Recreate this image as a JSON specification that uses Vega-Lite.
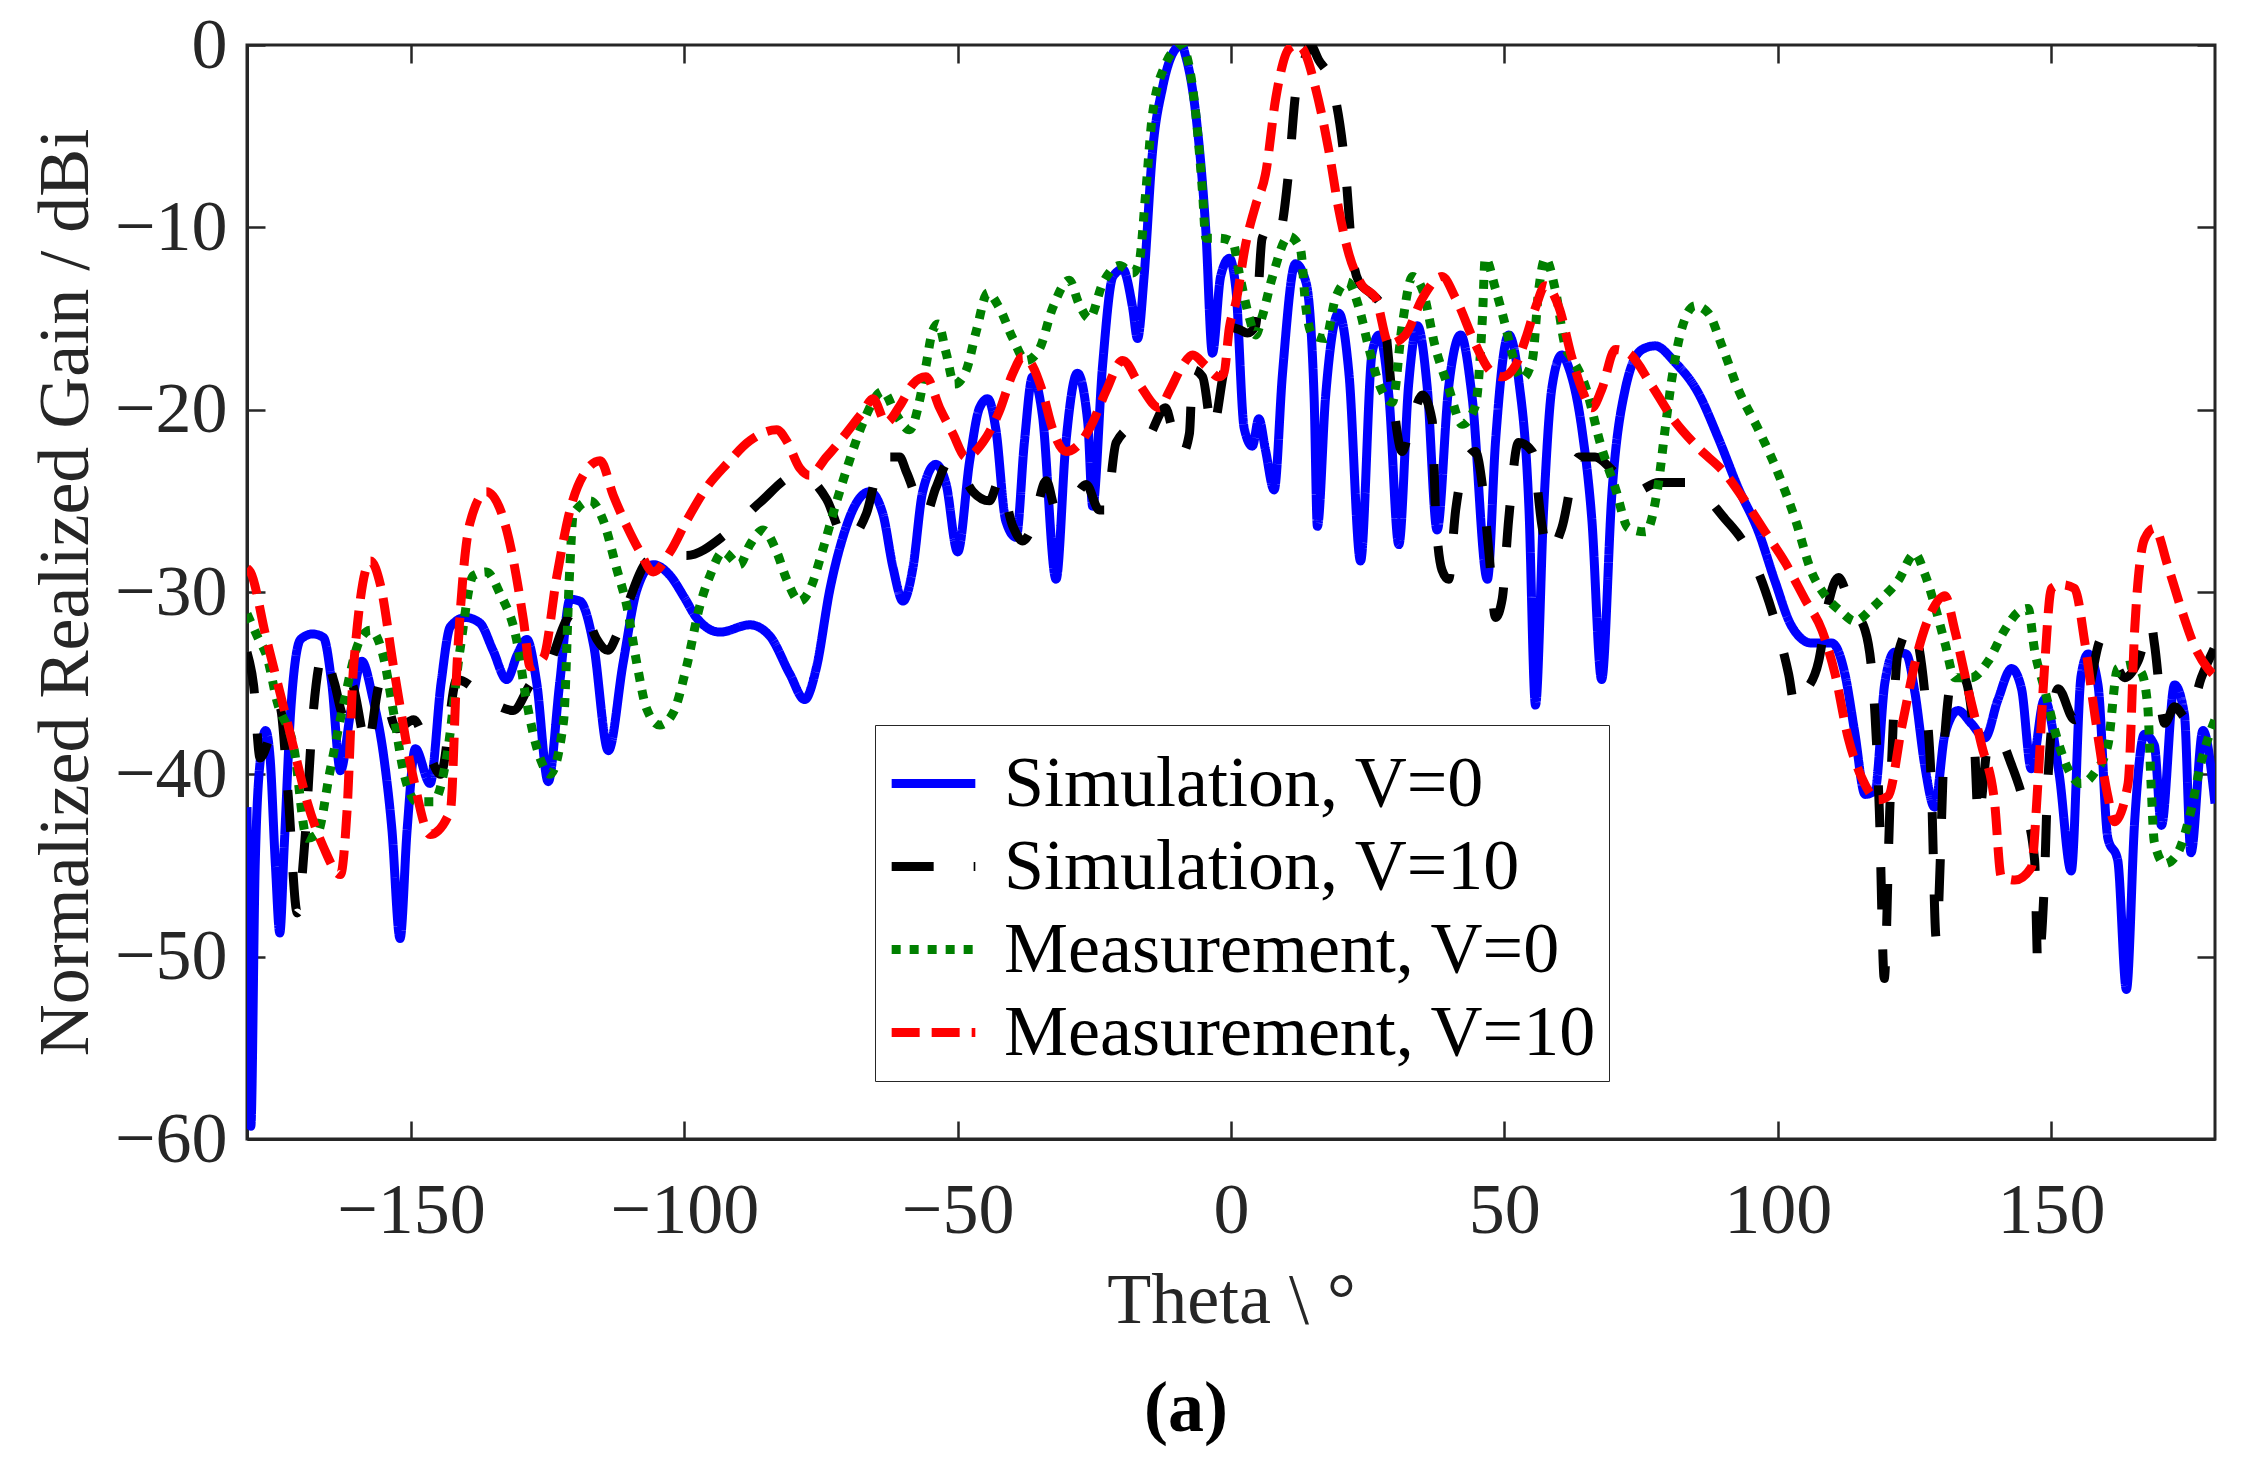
{
  "$schema": "https://vega.github.io/schema/vega-lite/v6.json",
  "width": 1968,
  "height": 1094,
  "autosize": {"type": "none"},
  "padding": {"left": 247, "top": 45, "right": 36, "bottom": 334},
  "background": "white",
  "title": {
    "text": "(a)",
    "orient": "bottom",
    "anchor": "middle",
    "dx": -45,
    "offset": 38,
    "font": "Liberation Serif",
    "fontSize": 72,
    "fontWeight": "bold",
    "color": "#000000"
  },
  "config": {
    "view": {"stroke": "#262626", "strokeWidth": 3},
    "axis": {
      "grid": false,
      "labelFont": "Liberation Serif",
      "labelFontSize": 72,
      "labelColor": "#262626",
      "titleFont": "Liberation Serif",
      "titleFontSize": 72,
      "titleFontWeight": "normal",
      "titleColor": "#262626",
      "domainColor": "#262626",
      "domainWidth": 3,
      "tickColor": "#262626",
      "tickWidth": 2.5,
      "tickSize": -18
    },
    "legend": {
      "orient": "none",
      "legendX": 628,
      "legendY": 680,
      "symbolType": "stroke",
      "symbolSize": 7000,
      "symbolStrokeWidth": 9,
      "labelFont": "Liberation Serif",
      "labelFontSize": 72,
      "labelColor": "#000000",
      "labelOffset": 24,
      "labelLimit": 0,
      "rowPadding": 0,
      "strokeColor": "#262626",
      "fillColor": "white",
      "padding": 12
    }
  },
  "data": {
    "values": [
      {"series": "Simulation, V=0", "theta": -180, "gain": -41.8},
      {"series": "Simulation, V=0", "theta": -179.3, "gain": -59.3},
      {"series": "Simulation, V=0", "theta": -178.5, "gain": -45},
      {"series": "Simulation, V=0", "theta": -177.5, "gain": -39},
      {"series": "Simulation, V=0", "theta": -176.6, "gain": -37.6},
      {"series": "Simulation, V=0", "theta": -175.8, "gain": -39},
      {"series": "Simulation, V=0", "theta": -174.8, "gain": -45},
      {"series": "Simulation, V=0", "theta": -174, "gain": -48.7},
      {"series": "Simulation, V=0", "theta": -173.2, "gain": -44},
      {"series": "Simulation, V=0", "theta": -172, "gain": -36.5},
      {"series": "Simulation, V=0", "theta": -170.2, "gain": -32.6},
      {"series": "Simulation, V=0", "theta": -168, "gain": -32.3},
      {"series": "Simulation, V=0", "theta": -166, "gain": -32.5},
      {"series": "Simulation, V=0", "theta": -164.5, "gain": -35},
      {"series": "Simulation, V=0", "theta": -162.9, "gain": -39.8},
      {"series": "Simulation, V=0", "theta": -161, "gain": -36.5},
      {"series": "Simulation, V=0", "theta": -159, "gain": -33.8},
      {"series": "Simulation, V=0", "theta": -157, "gain": -35.8},
      {"series": "Simulation, V=0", "theta": -155, "gain": -39},
      {"series": "Simulation, V=0", "theta": -153.5, "gain": -43},
      {"series": "Simulation, V=0", "theta": -152, "gain": -49},
      {"series": "Simulation, V=0", "theta": -150.7, "gain": -43},
      {"series": "Simulation, V=0", "theta": -149.2, "gain": -38.6},
      {"series": "Simulation, V=0", "theta": -146.5, "gain": -40.5},
      {"series": "Simulation, V=0", "theta": -144.5, "gain": -35},
      {"series": "Simulation, V=0", "theta": -142.8, "gain": -31.9},
      {"series": "Simulation, V=0", "theta": -140, "gain": -31.4},
      {"series": "Simulation, V=0", "theta": -137.4, "gain": -31.7},
      {"series": "Simulation, V=0", "theta": -135, "gain": -33.2},
      {"series": "Simulation, V=0", "theta": -132.5, "gain": -34.8},
      {"series": "Simulation, V=0", "theta": -130.5, "gain": -33.4},
      {"series": "Simulation, V=0", "theta": -128.8, "gain": -32.6},
      {"series": "Simulation, V=0", "theta": -127, "gain": -35},
      {"series": "Simulation, V=0", "theta": -124.9, "gain": -40.4},
      {"series": "Simulation, V=0", "theta": -122.8, "gain": -35},
      {"series": "Simulation, V=0", "theta": -120.9, "gain": -30.4},
      {"series": "Simulation, V=0", "theta": -119.1, "gain": -30.5},
      {"series": "Simulation, V=0", "theta": -116.6, "gain": -32.9},
      {"series": "Simulation, V=0", "theta": -113.9, "gain": -38.7},
      {"series": "Simulation, V=0", "theta": -111.2, "gain": -33.9},
      {"series": "Simulation, V=0", "theta": -108.7, "gain": -29.9},
      {"series": "Simulation, V=0", "theta": -105.7, "gain": -28.5},
      {"series": "Simulation, V=0", "theta": -102.6, "gain": -29.1},
      {"series": "Simulation, V=0", "theta": -100, "gain": -30.3},
      {"series": "Simulation, V=0", "theta": -97.8, "gain": -31.4},
      {"series": "Simulation, V=0", "theta": -93.5, "gain": -32.2},
      {"series": "Simulation, V=0", "theta": -88, "gain": -31.8},
      {"series": "Simulation, V=0", "theta": -84.4, "gain": -32.4},
      {"series": "Simulation, V=0", "theta": -80.7, "gain": -34.5},
      {"series": "Simulation, V=0", "theta": -78, "gain": -35.9},
      {"series": "Simulation, V=0", "theta": -75.8, "gain": -34.1},
      {"series": "Simulation, V=0", "theta": -73.4, "gain": -29.9},
      {"series": "Simulation, V=0", "theta": -71, "gain": -27},
      {"series": "Simulation, V=0", "theta": -68.5, "gain": -25.1},
      {"series": "Simulation, V=0", "theta": -66.1, "gain": -24.5},
      {"series": "Simulation, V=0", "theta": -63.7, "gain": -25.7},
      {"series": "Simulation, V=0", "theta": -61.8, "gain": -28.7},
      {"series": "Simulation, V=0", "theta": -60, "gain": -30.5},
      {"series": "Simulation, V=0", "theta": -58.2, "gain": -28.7},
      {"series": "Simulation, V=0", "theta": -56.4, "gain": -24.5},
      {"series": "Simulation, V=0", "theta": -54, "gain": -23},
      {"series": "Simulation, V=0", "theta": -52.1, "gain": -24.1},
      {"series": "Simulation, V=0", "theta": -50, "gain": -27.8},
      {"series": "Simulation, V=0", "theta": -47.8, "gain": -22.8},
      {"series": "Simulation, V=0", "theta": -46, "gain": -19.9},
      {"series": "Simulation, V=0", "theta": -44.5, "gain": -19.4},
      {"series": "Simulation, V=0", "theta": -43, "gain": -21.1},
      {"series": "Simulation, V=0", "theta": -41.2, "gain": -26.1},
      {"series": "Simulation, V=0", "theta": -39.3, "gain": -27},
      {"series": "Simulation, V=0", "theta": -37.8, "gain": -21.8},
      {"series": "Simulation, V=0", "theta": -36.3, "gain": -18.2},
      {"series": "Simulation, V=0", "theta": -34.5, "gain": -20.3},
      {"series": "Simulation, V=0", "theta": -32, "gain": -29.3},
      {"series": "Simulation, V=0", "theta": -30.2, "gain": -21.8},
      {"series": "Simulation, V=0", "theta": -28.1, "gain": -18},
      {"series": "Simulation, V=0", "theta": -26.2, "gain": -20.7},
      {"series": "Simulation, V=0", "theta": -25.3, "gain": -25.3},
      {"series": "Simulation, V=0", "theta": -23.5, "gain": -17.6},
      {"series": "Simulation, V=0", "theta": -21.6, "gain": -12.7},
      {"series": "Simulation, V=0", "theta": -19.8, "gain": -12.3},
      {"series": "Simulation, V=0", "theta": -18, "gain": -14.4},
      {"series": "Simulation, V=0", "theta": -17.1, "gain": -16.1},
      {"series": "Simulation, V=0", "theta": -15.9, "gain": -12.7},
      {"series": "Simulation, V=0", "theta": -14.4, "gain": -6},
      {"series": "Simulation, V=0", "theta": -12.5, "gain": -2.3},
      {"series": "Simulation, V=0", "theta": -10.1, "gain": -0.2},
      {"series": "Simulation, V=0", "theta": -9, "gain": 0},
      {"series": "Simulation, V=0", "theta": -8.3, "gain": -0.6},
      {"series": "Simulation, V=0", "theta": -6.4, "gain": -3.9},
      {"series": "Simulation, V=0", "theta": -4.6, "gain": -10.2},
      {"series": "Simulation, V=0", "theta": -3.4, "gain": -16.9},
      {"series": "Simulation, V=0", "theta": -1.9, "gain": -12.7},
      {"series": "Simulation, V=0", "theta": -0.3, "gain": -11.7},
      {"series": "Simulation, V=0", "theta": 0.9, "gain": -13.4},
      {"series": "Simulation, V=0", "theta": 2.4, "gain": -21},
      {"series": "Simulation, V=0", "theta": 3.9, "gain": -22},
      {"series": "Simulation, V=0", "theta": 5.1, "gain": -20.5},
      {"series": "Simulation, V=0", "theta": 6.3, "gain": -22.2},
      {"series": "Simulation, V=0", "theta": 7.9, "gain": -24.4},
      {"series": "Simulation, V=0", "theta": 9.4, "gain": -18.1},
      {"series": "Simulation, V=0", "theta": 11.8, "gain": -12},
      {"series": "Simulation, V=0", "theta": 13.7, "gain": -13},
      {"series": "Simulation, V=0", "theta": 15.2, "gain": -19.3},
      {"series": "Simulation, V=0", "theta": 15.8, "gain": -26.4},
      {"series": "Simulation, V=0", "theta": 17.3, "gain": -19.3},
      {"series": "Simulation, V=0", "theta": 19.7, "gain": -14.7},
      {"series": "Simulation, V=0", "theta": 21.6, "gain": -18.1},
      {"series": "Simulation, V=0", "theta": 23.7, "gain": -28.3},
      {"series": "Simulation, V=0", "theta": 25.8, "gain": -16.9},
      {"series": "Simulation, V=0", "theta": 27.1, "gain": -15.9},
      {"series": "Simulation, V=0", "theta": 28.9, "gain": -19.3},
      {"series": "Simulation, V=0", "theta": 30.7, "gain": -27.4},
      {"series": "Simulation, V=0", "theta": 32.5, "gain": -18.6},
      {"series": "Simulation, V=0", "theta": 34.1, "gain": -15.4},
      {"series": "Simulation, V=0", "theta": 35.9, "gain": -18.8},
      {"series": "Simulation, V=0", "theta": 37.7, "gain": -26.6},
      {"series": "Simulation, V=0", "theta": 39.8, "gain": -18.8},
      {"series": "Simulation, V=0", "theta": 42, "gain": -15.9},
      {"series": "Simulation, V=0", "theta": 44.1, "gain": -19.3},
      {"series": "Simulation, V=0", "theta": 46.9, "gain": -29.3},
      {"series": "Simulation, V=0", "theta": 48.4, "gain": -21.7},
      {"series": "Simulation, V=0", "theta": 50.8, "gain": -15.9},
      {"series": "Simulation, V=0", "theta": 52.6, "gain": -18.3},
      {"series": "Simulation, V=0", "theta": 54.5, "gain": -25.4},
      {"series": "Simulation, V=0", "theta": 55.7, "gain": -36.2},
      {"series": "Simulation, V=0", "theta": 57.2, "gain": -25.4},
      {"series": "Simulation, V=0", "theta": 58.7, "gain": -18.8},
      {"series": "Simulation, V=0", "theta": 60.5, "gain": -17},
      {"series": "Simulation, V=0", "theta": 61.8, "gain": -17.7},
      {"series": "Simulation, V=0", "theta": 64.2, "gain": -21.1},
      {"series": "Simulation, V=0", "theta": 66, "gain": -26},
      {"series": "Simulation, V=0", "theta": 67.8, "gain": -34.8},
      {"series": "Simulation, V=0", "theta": 69.7, "gain": -24.5},
      {"series": "Simulation, V=0", "theta": 72.1, "gain": -18.9},
      {"series": "Simulation, V=0", "theta": 75.2, "gain": -16.7},
      {"series": "Simulation, V=0", "theta": 77.6, "gain": -16.5},
      {"series": "Simulation, V=0", "theta": 81.2, "gain": -17.4},
      {"series": "Simulation, V=0", "theta": 85.5, "gain": -19.1},
      {"series": "Simulation, V=0", "theta": 89.2, "gain": -21.6},
      {"series": "Simulation, V=0", "theta": 92.8, "gain": -24.3},
      {"series": "Simulation, V=0", "theta": 96.5, "gain": -26.7},
      {"series": "Simulation, V=0", "theta": 99.5, "gain": -29.4},
      {"series": "Simulation, V=0", "theta": 102.6, "gain": -31.9},
      {"series": "Simulation, V=0", "theta": 106.2, "gain": -32.8},
      {"series": "Simulation, V=0", "theta": 109.9, "gain": -32.8},
      {"series": "Simulation, V=0", "theta": 112.3, "gain": -34.5},
      {"series": "Simulation, V=0", "theta": 114.1, "gain": -37.7},
      {"series": "Simulation, V=0", "theta": 116, "gain": -41.1},
      {"series": "Simulation, V=0", "theta": 117.8, "gain": -40.9},
      {"series": "Simulation, V=0", "theta": 119.6, "gain": -35},
      {"series": "Simulation, V=0", "theta": 121.4, "gain": -33.3},
      {"series": "Simulation, V=0", "theta": 123.5, "gain": -33.4},
      {"series": "Simulation, V=0", "theta": 125.1, "gain": -35.5},
      {"series": "Simulation, V=0", "theta": 126.9, "gain": -39.5},
      {"series": "Simulation, V=0", "theta": 128.7, "gain": -41.8},
      {"series": "Simulation, V=0", "theta": 130.6, "gain": -37.8},
      {"series": "Simulation, V=0", "theta": 133, "gain": -36.5},
      {"series": "Simulation, V=0", "theta": 135.4, "gain": -37.2},
      {"series": "Simulation, V=0", "theta": 137.9, "gain": -38},
      {"series": "Simulation, V=0", "theta": 140.3, "gain": -35.9},
      {"series": "Simulation, V=0", "theta": 142.8, "gain": -34.2},
      {"series": "Simulation, V=0", "theta": 144.6, "gain": -35.3},
      {"series": "Simulation, V=0", "theta": 146.4, "gain": -39.7},
      {"series": "Simulation, V=0", "theta": 148.8, "gain": -35.9},
      {"series": "Simulation, V=0", "theta": 151.5, "gain": -40},
      {"series": "Simulation, V=0", "theta": 153.7, "gain": -45.3},
      {"series": "Simulation, V=0", "theta": 155.5, "gain": -34.6},
      {"series": "Simulation, V=0", "theta": 156.8, "gain": -33.4},
      {"series": "Simulation, V=0", "theta": 158.6, "gain": -35.1},
      {"series": "Simulation, V=0", "theta": 160.4, "gain": -43.5},
      {"series": "Simulation, V=0", "theta": 162.2, "gain": -44.7},
      {"series": "Simulation, V=0", "theta": 163.8, "gain": -51.8},
      {"series": "Simulation, V=0", "theta": 165.3, "gain": -42.6},
      {"series": "Simulation, V=0", "theta": 167.1, "gain": -37.8},
      {"series": "Simulation, V=0", "theta": 168.9, "gain": -38.4},
      {"series": "Simulation, V=0", "theta": 170.2, "gain": -42.8},
      {"series": "Simulation, V=0", "theta": 172.6, "gain": -35.1},
      {"series": "Simulation, V=0", "theta": 174.4, "gain": -36.7},
      {"series": "Simulation, V=0", "theta": 175.6, "gain": -44.3},
      {"series": "Simulation, V=0", "theta": 177.8, "gain": -37.6},
      {"series": "Simulation, V=0", "theta": 180, "gain": -41.6},

      {"series": "Simulation, V=10", "theta": -180, "gain": -33.3},
      {"series": "Simulation, V=10", "theta": -178.8, "gain": -35.1},
      {"series": "Simulation, V=10", "theta": -177.6, "gain": -39.1},
      {"series": "Simulation, V=10", "theta": -175.7, "gain": -37.8},
      {"series": "Simulation, V=10", "theta": -174, "gain": -36.3},
      {"series": "Simulation, V=10", "theta": -172.5, "gain": -41},
      {"series": "Simulation, V=10", "theta": -170.8, "gain": -47.6},
      {"series": "Simulation, V=10", "theta": -169.5, "gain": -44},
      {"series": "Simulation, V=10", "theta": -168, "gain": -37},
      {"series": "Simulation, V=10", "theta": -166, "gain": -33.3},
      {"series": "Simulation, V=10", "theta": -164, "gain": -35},
      {"series": "Simulation, V=10", "theta": -162.3, "gain": -36.8},
      {"series": "Simulation, V=10", "theta": -161, "gain": -35},
      {"series": "Simulation, V=10", "theta": -158, "gain": -38.5},
      {"series": "Simulation, V=10", "theta": -155.6, "gain": -35},
      {"series": "Simulation, V=10", "theta": -152.6, "gain": -37.5},
      {"series": "Simulation, V=10", "theta": -149.5, "gain": -37},
      {"series": "Simulation, V=10", "theta": -146.8, "gain": -38.8},
      {"series": "Simulation, V=10", "theta": -144.6, "gain": -40},
      {"series": "Simulation, V=10", "theta": -141.6, "gain": -34.8},
      {"series": "Simulation, V=10", "theta": -137.5, "gain": -35.5},
      {"series": "Simulation, V=10", "theta": -133.7, "gain": -36.3},
      {"series": "Simulation, V=10", "theta": -131.3, "gain": -36.5},
      {"series": "Simulation, V=10", "theta": -128, "gain": -35},
      {"series": "Simulation, V=10", "theta": -125.2, "gain": -34.3},
      {"series": "Simulation, V=10", "theta": -121.5, "gain": -31.5},
      {"series": "Simulation, V=10", "theta": -119.7, "gain": -30.9},
      {"series": "Simulation, V=10", "theta": -117.8, "gain": -31.4},
      {"series": "Simulation, V=10", "theta": -116, "gain": -32.6},
      {"series": "Simulation, V=10", "theta": -114, "gain": -33.2},
      {"series": "Simulation, V=10", "theta": -112.4, "gain": -32.4},
      {"series": "Simulation, V=10", "theta": -110.5, "gain": -30.8},
      {"series": "Simulation, V=10", "theta": -106.3, "gain": -28.2},
      {"series": "Simulation, V=10", "theta": -102.6, "gain": -28},
      {"series": "Simulation, V=10", "theta": -99.6, "gain": -28},
      {"series": "Simulation, V=10", "theta": -92.3, "gain": -26.8},
      {"series": "Simulation, V=10", "theta": -86.2, "gain": -25.1},
      {"series": "Simulation, V=10", "theta": -79.5, "gain": -23.6},
      {"series": "Simulation, V=10", "theta": -77.1, "gain": -23.8},
      {"series": "Simulation, V=10", "theta": -74, "gain": -24.9},
      {"series": "Simulation, V=10", "theta": -70.4, "gain": -27.2},
      {"series": "Simulation, V=10", "theta": -66.7, "gain": -25.7},
      {"series": "Simulation, V=10", "theta": -63.7, "gain": -22.6},
      {"series": "Simulation, V=10", "theta": -60.6, "gain": -22.6},
      {"series": "Simulation, V=10", "theta": -59.4, "gain": -23.4},
      {"series": "Simulation, V=10", "theta": -55.8, "gain": -25.7},
      {"series": "Simulation, V=10", "theta": -54, "gain": -24.3},
      {"series": "Simulation, V=10", "theta": -51.5, "gain": -22.8},
      {"series": "Simulation, V=10", "theta": -48.5, "gain": -23.9},
      {"series": "Simulation, V=10", "theta": -47.2, "gain": -24.5},
      {"series": "Simulation, V=10", "theta": -44.2, "gain": -25},
      {"series": "Simulation, V=10", "theta": -42.4, "gain": -23.9},
      {"series": "Simulation, V=10", "theta": -39.9, "gain": -26.4},
      {"series": "Simulation, V=10", "theta": -38.1, "gain": -27.2},
      {"series": "Simulation, V=10", "theta": -36.3, "gain": -26.4},
      {"series": "Simulation, V=10", "theta": -33.8, "gain": -23.9},
      {"series": "Simulation, V=10", "theta": -32, "gain": -25.5},
      {"series": "Simulation, V=10", "theta": -29, "gain": -25},
      {"series": "Simulation, V=10", "theta": -26.5, "gain": -24.1},
      {"series": "Simulation, V=10", "theta": -24.1, "gain": -25.5},
      {"series": "Simulation, V=10", "theta": -22.9, "gain": -25.5},
      {"series": "Simulation, V=10", "theta": -21, "gain": -21.8},
      {"series": "Simulation, V=10", "theta": -18, "gain": -21},
      {"series": "Simulation, V=10", "theta": -15.6, "gain": -21.6},
      {"series": "Simulation, V=10", "theta": -12, "gain": -19.9},
      {"series": "Simulation, V=10", "theta": -10.7, "gain": -21.1},
      {"series": "Simulation, V=10", "theta": -8.9, "gain": -22.4},
      {"series": "Simulation, V=10", "theta": -7.6, "gain": -21.3},
      {"series": "Simulation, V=10", "theta": -7, "gain": -17.8},
      {"series": "Simulation, V=10", "theta": -5.2, "gain": -18.2},
      {"series": "Simulation, V=10", "theta": -3.4, "gain": -21.1},
      {"series": "Simulation, V=10", "theta": -1.5, "gain": -18.2},
      {"series": "Simulation, V=10", "theta": 0, "gain": -15.5},
      {"series": "Simulation, V=10", "theta": 1.5, "gain": -15.6},
      {"series": "Simulation, V=10", "theta": 3, "gain": -15.8},
      {"series": "Simulation, V=10", "theta": 4.5, "gain": -15.4},
      {"series": "Simulation, V=10", "theta": 5.7, "gain": -10.6},
      {"series": "Simulation, V=10", "theta": 7.6, "gain": -9.8},
      {"series": "Simulation, V=10", "theta": 8.8, "gain": -10.3},
      {"series": "Simulation, V=10", "theta": 10.6, "gain": -6.8},
      {"series": "Simulation, V=10", "theta": 11.8, "gain": -2.7},
      {"series": "Simulation, V=10", "theta": 13.1, "gain": -1.2},
      {"series": "Simulation, V=10", "theta": 14.5, "gain": 0},
      {"series": "Simulation, V=10", "theta": 16, "gain": -0.8},
      {"series": "Simulation, V=10", "theta": 18.5, "gain": -2.2},
      {"series": "Simulation, V=10", "theta": 21, "gain": -7.1},
      {"series": "Simulation, V=10", "theta": 22.2, "gain": -11.5},
      {"series": "Simulation, V=10", "theta": 23.4, "gain": -13},
      {"series": "Simulation, V=10", "theta": 25.5, "gain": -13.6},
      {"series": "Simulation, V=10", "theta": 27.7, "gain": -14.4},
      {"series": "Simulation, V=10", "theta": 29.5, "gain": -19.2},
      {"series": "Simulation, V=10", "theta": 31.3, "gain": -22.3},
      {"series": "Simulation, V=10", "theta": 32.5, "gain": -21.3},
      {"series": "Simulation, V=10", "theta": 35, "gain": -19.2},
      {"series": "Simulation, V=10", "theta": 36.8, "gain": -20.6},
      {"series": "Simulation, V=10", "theta": 37.4, "gain": -25.5},
      {"series": "Simulation, V=10", "theta": 38.6, "gain": -28.8},
      {"series": "Simulation, V=10", "theta": 39.8, "gain": -29.3},
      {"series": "Simulation, V=10", "theta": 41.1, "gain": -25.5},
      {"series": "Simulation, V=10", "theta": 43, "gain": -22.8},
      {"series": "Simulation, V=10", "theta": 44.7, "gain": -22.3},
      {"series": "Simulation, V=10", "theta": 46, "gain": -24.2},
      {"series": "Simulation, V=10", "theta": 47.2, "gain": -27.9},
      {"series": "Simulation, V=10", "theta": 48.4, "gain": -31.4},
      {"series": "Simulation, V=10", "theta": 49.6, "gain": -30.4},
      {"series": "Simulation, V=10", "theta": 50.8, "gain": -26},
      {"series": "Simulation, V=10", "theta": 52.6, "gain": -21.8},
      {"series": "Simulation, V=10", "theta": 55.1, "gain": -22.3},
      {"series": "Simulation, V=10", "theta": 56.9, "gain": -26.4},
      {"series": "Simulation, V=10", "theta": 58.1, "gain": -27.9},
      {"series": "Simulation, V=10", "theta": 60.5, "gain": -26.5},
      {"series": "Simulation, V=10", "theta": 63.6, "gain": -22.6},
      {"series": "Simulation, V=10", "theta": 66.6, "gain": -22.6},
      {"series": "Simulation, V=10", "theta": 69.7, "gain": -23.3},
      {"series": "Simulation, V=10", "theta": 73.9, "gain": -24.5},
      {"series": "Simulation, V=10", "theta": 78.2, "gain": -24},
      {"series": "Simulation, V=10", "theta": 83.1, "gain": -24},
      {"series": "Simulation, V=10", "theta": 90.4, "gain": -26},
      {"series": "Simulation, V=10", "theta": 94, "gain": -27.4},
      {"series": "Simulation, V=10", "theta": 97.7, "gain": -29.9},
      {"series": "Simulation, V=10", "theta": 99.5, "gain": -31.6},
      {"series": "Simulation, V=10", "theta": 102, "gain": -34.5},
      {"series": "Simulation, V=10", "theta": 103.2, "gain": -36.3},
      {"series": "Simulation, V=10", "theta": 105, "gain": -35.5},
      {"series": "Simulation, V=10", "theta": 107.5, "gain": -33.8},
      {"series": "Simulation, V=10", "theta": 109.3, "gain": -30.6},
      {"series": "Simulation, V=10", "theta": 111.1, "gain": -29.2},
      {"series": "Simulation, V=10", "theta": 113.5, "gain": -30.9},
      {"series": "Simulation, V=10", "theta": 116, "gain": -32.1},
      {"series": "Simulation, V=10", "theta": 117.8, "gain": -36.7},
      {"series": "Simulation, V=10", "theta": 118.6, "gain": -42},
      {"series": "Simulation, V=10", "theta": 119.5, "gain": -51.2},
      {"series": "Simulation, V=10", "theta": 120.5, "gain": -42},
      {"series": "Simulation, V=10", "theta": 122, "gain": -33.4},
      {"series": "Simulation, V=10", "theta": 124.5, "gain": -31.9},
      {"series": "Simulation, V=10", "theta": 126.9, "gain": -35.5},
      {"series": "Simulation, V=10", "theta": 128.1, "gain": -40.5},
      {"series": "Simulation, V=10", "theta": 129, "gain": -49},
      {"series": "Simulation, V=10", "theta": 130.6, "gain": -37.8},
      {"series": "Simulation, V=10", "theta": 132.4, "gain": -34.2},
      {"series": "Simulation, V=10", "theta": 134.2, "gain": -34.7},
      {"series": "Simulation, V=10", "theta": 136, "gain": -38.4},
      {"series": "Simulation, V=10", "theta": 136.7, "gain": -42.4},
      {"series": "Simulation, V=10", "theta": 138.5, "gain": -38.4},
      {"series": "Simulation, V=10", "theta": 140.3, "gain": -38},
      {"series": "Simulation, V=10", "theta": 142.8, "gain": -39.5},
      {"series": "Simulation, V=10", "theta": 145.2, "gain": -41.8},
      {"series": "Simulation, V=10", "theta": 147, "gain": -44.7},
      {"series": "Simulation, V=10", "theta": 147.6, "gain": -50.5},
      {"series": "Simulation, V=10", "theta": 148.8, "gain": -45.8},
      {"series": "Simulation, V=10", "theta": 149.4, "gain": -40.5},
      {"series": "Simulation, V=10", "theta": 151.3, "gain": -35.3},
      {"series": "Simulation, V=10", "theta": 154.3, "gain": -37},
      {"series": "Simulation, V=10", "theta": 156.8, "gain": -35.5},
      {"series": "Simulation, V=10", "theta": 159.2, "gain": -32.6},
      {"series": "Simulation, V=10", "theta": 161.6, "gain": -33.8},
      {"series": "Simulation, V=10", "theta": 163.5, "gain": -34.7},
      {"series": "Simulation, V=10", "theta": 165.9, "gain": -33.8},
      {"series": "Simulation, V=10", "theta": 168.3, "gain": -31.7},
      {"series": "Simulation, V=10", "theta": 168.9, "gain": -32.8},
      {"series": "Simulation, V=10", "theta": 170.8, "gain": -37.2},
      {"series": "Simulation, V=10", "theta": 172.6, "gain": -36.3},
      {"series": "Simulation, V=10", "theta": 175, "gain": -37},
      {"series": "Simulation, V=10", "theta": 177.5, "gain": -34.7},
      {"series": "Simulation, V=10", "theta": 180, "gain": -33},

      {"series": "Measurement, V=0", "theta": -180, "gain": -31.2},
      {"series": "Measurement, V=0", "theta": -178, "gain": -32.5},
      {"series": "Measurement, V=0", "theta": -176.3, "gain": -33.6},
      {"series": "Measurement, V=0", "theta": -174.5, "gain": -36},
      {"series": "Measurement, V=0", "theta": -171.4, "gain": -38.6},
      {"series": "Measurement, V=0", "theta": -169, "gain": -43.5},
      {"series": "Measurement, V=0", "theta": -167.2, "gain": -43.3},
      {"series": "Measurement, V=0", "theta": -164.8, "gain": -39.8},
      {"series": "Measurement, V=0", "theta": -162.3, "gain": -36.1},
      {"series": "Measurement, V=0", "theta": -159.3, "gain": -32.6},
      {"series": "Measurement, V=0", "theta": -157.4, "gain": -32.1},
      {"series": "Measurement, V=0", "theta": -155, "gain": -33.6},
      {"series": "Measurement, V=0", "theta": -153.2, "gain": -36.6},
      {"series": "Measurement, V=0", "theta": -151.4, "gain": -39.8},
      {"series": "Measurement, V=0", "theta": -148.9, "gain": -41.5},
      {"series": "Measurement, V=0", "theta": -145.9, "gain": -41.5},
      {"series": "Measurement, V=0", "theta": -143.5, "gain": -39.1},
      {"series": "Measurement, V=0", "theta": -141, "gain": -33.1},
      {"series": "Measurement, V=0", "theta": -138.6, "gain": -29.1},
      {"series": "Measurement, V=0", "theta": -136.2, "gain": -28.9},
      {"series": "Measurement, V=0", "theta": -133.7, "gain": -30.1},
      {"series": "Measurement, V=0", "theta": -130.7, "gain": -32.6},
      {"series": "Measurement, V=0", "theta": -128.8, "gain": -36.1},
      {"series": "Measurement, V=0", "theta": -126.4, "gain": -39.1},
      {"series": "Measurement, V=0", "theta": -124.6, "gain": -40},
      {"series": "Measurement, V=0", "theta": -122.1, "gain": -37.1},
      {"series": "Measurement, V=0", "theta": -121, "gain": -29},
      {"series": "Measurement, V=0", "theta": -120.3, "gain": -25.7},
      {"series": "Measurement, V=0", "theta": -117.2, "gain": -25},
      {"series": "Measurement, V=0", "theta": -114.8, "gain": -26.1},
      {"series": "Measurement, V=0", "theta": -112.4, "gain": -28.7},
      {"series": "Measurement, V=0", "theta": -110.5, "gain": -30.8},
      {"series": "Measurement, V=0", "theta": -108.7, "gain": -33.9},
      {"series": "Measurement, V=0", "theta": -106.9, "gain": -36.4},
      {"series": "Measurement, V=0", "theta": -104.5, "gain": -37.3},
      {"series": "Measurement, V=0", "theta": -102, "gain": -36.6},
      {"series": "Measurement, V=0", "theta": -99.6, "gain": -34.1},
      {"series": "Measurement, V=0", "theta": -97.2, "gain": -30.8},
      {"series": "Measurement, V=0", "theta": -95.3, "gain": -29.1},
      {"series": "Measurement, V=0", "theta": -92.9, "gain": -27.8},
      {"series": "Measurement, V=0", "theta": -89.9, "gain": -28.5},
      {"series": "Measurement, V=0", "theta": -88, "gain": -27.4},
      {"series": "Measurement, V=0", "theta": -85.6, "gain": -26.6},
      {"series": "Measurement, V=0", "theta": -83.1, "gain": -27.8},
      {"series": "Measurement, V=0", "theta": -81.3, "gain": -29.3},
      {"series": "Measurement, V=0", "theta": -78.9, "gain": -30.5},
      {"series": "Measurement, V=0", "theta": -77.1, "gain": -29.9},
      {"series": "Measurement, V=0", "theta": -74.6, "gain": -27.6},
      {"series": "Measurement, V=0", "theta": -72.2, "gain": -25.1},
      {"series": "Measurement, V=0", "theta": -69.8, "gain": -22.8},
      {"series": "Measurement, V=0", "theta": -67.3, "gain": -20.7},
      {"series": "Measurement, V=0", "theta": -63.7, "gain": -19},
      {"series": "Measurement, V=0", "theta": -61.2, "gain": -20.3},
      {"series": "Measurement, V=0", "theta": -58.8, "gain": -21.1},
      {"series": "Measurement, V=0", "theta": -56.9, "gain": -19.4},
      {"series": "Measurement, V=0", "theta": -55.8, "gain": -17.6},
      {"series": "Measurement, V=0", "theta": -54.6, "gain": -15.7},
      {"series": "Measurement, V=0", "theta": -53.6, "gain": -15.3},
      {"series": "Measurement, V=0", "theta": -52.1, "gain": -16.9},
      {"series": "Measurement, V=0", "theta": -50.6, "gain": -18.6},
      {"series": "Measurement, V=0", "theta": -48.5, "gain": -17.9},
      {"series": "Measurement, V=0", "theta": -46.6, "gain": -15.7},
      {"series": "Measurement, V=0", "theta": -44.5, "gain": -13.6},
      {"series": "Measurement, V=0", "theta": -42.4, "gain": -14.4},
      {"series": "Measurement, V=0", "theta": -39.9, "gain": -16.1},
      {"series": "Measurement, V=0", "theta": -37.5, "gain": -17.3},
      {"series": "Measurement, V=0", "theta": -35.1, "gain": -16.7},
      {"series": "Measurement, V=0", "theta": -32.6, "gain": -14.4},
      {"series": "Measurement, V=0", "theta": -29.6, "gain": -12.9},
      {"series": "Measurement, V=0", "theta": -27.8, "gain": -14.2},
      {"series": "Measurement, V=0", "theta": -25.9, "gain": -15},
      {"series": "Measurement, V=0", "theta": -23.5, "gain": -13.1},
      {"series": "Measurement, V=0", "theta": -20.4, "gain": -12.1},
      {"series": "Measurement, V=0", "theta": -18, "gain": -12.5},
      {"series": "Measurement, V=0", "theta": -16.8, "gain": -11.9},
      {"series": "Measurement, V=0", "theta": -15.6, "gain": -8.1},
      {"series": "Measurement, V=0", "theta": -14.4, "gain": -3.9},
      {"series": "Measurement, V=0", "theta": -11.9, "gain": -1},
      {"series": "Measurement, V=0", "theta": -10.1, "gain": -0.2},
      {"series": "Measurement, V=0", "theta": -9.2, "gain": 0},
      {"series": "Measurement, V=0", "theta": -8.3, "gain": -0.4},
      {"series": "Measurement, V=0", "theta": -6.4, "gain": -3.9},
      {"series": "Measurement, V=0", "theta": -5.2, "gain": -8.1},
      {"series": "Measurement, V=0", "theta": -4.6, "gain": -10.6},
      {"series": "Measurement, V=0", "theta": -2.2, "gain": -10.6},
      {"series": "Measurement, V=0", "theta": 0.3, "gain": -10.8},
      {"series": "Measurement, V=0", "theta": 1.5, "gain": -12.5},
      {"series": "Measurement, V=0", "theta": 3.3, "gain": -14.9},
      {"series": "Measurement, V=0", "theta": 4.5, "gain": -15.9},
      {"series": "Measurement, V=0", "theta": 5.7, "gain": -14.9},
      {"series": "Measurement, V=0", "theta": 7.6, "gain": -12.7},
      {"series": "Measurement, V=0", "theta": 10.6, "gain": -10.5},
      {"series": "Measurement, V=0", "theta": 12.7, "gain": -11.2},
      {"series": "Measurement, V=0", "theta": 13.7, "gain": -14.4},
      {"series": "Measurement, V=0", "theta": 14.9, "gain": -15.9},
      {"series": "Measurement, V=0", "theta": 17.3, "gain": -16.1},
      {"series": "Measurement, V=0", "theta": 19.1, "gain": -13.9},
      {"series": "Measurement, V=0", "theta": 21.3, "gain": -13},
      {"series": "Measurement, V=0", "theta": 23.4, "gain": -14.4},
      {"series": "Measurement, V=0", "theta": 25.2, "gain": -16.6},
      {"series": "Measurement, V=0", "theta": 27.1, "gain": -18.6},
      {"series": "Measurement, V=0", "theta": 29.5, "gain": -19.6},
      {"series": "Measurement, V=0", "theta": 31.3, "gain": -15.4},
      {"series": "Measurement, V=0", "theta": 33.2, "gain": -12.7},
      {"series": "Measurement, V=0", "theta": 35, "gain": -13.4},
      {"series": "Measurement, V=0", "theta": 37.4, "gain": -16.6},
      {"series": "Measurement, V=0", "theta": 39.8, "gain": -18.8},
      {"series": "Measurement, V=0", "theta": 42.3, "gain": -20.8},
      {"series": "Measurement, V=0", "theta": 44.7, "gain": -19.8},
      {"series": "Measurement, V=0", "theta": 46, "gain": -14.9},
      {"series": "Measurement, V=0", "theta": 46.5, "gain": -11.7},
      {"series": "Measurement, V=0", "theta": 48.4, "gain": -13.4},
      {"series": "Measurement, V=0", "theta": 50.2, "gain": -15.4},
      {"series": "Measurement, V=0", "theta": 51.4, "gain": -16.9},
      {"series": "Measurement, V=0", "theta": 53.2, "gain": -18.3},
      {"series": "Measurement, V=0", "theta": 55.1, "gain": -17.3},
      {"series": "Measurement, V=0", "theta": 56.3, "gain": -13.4},
      {"series": "Measurement, V=0", "theta": 57.5, "gain": -11.7},
      {"series": "Measurement, V=0", "theta": 59.3, "gain": -13.4},
      {"series": "Measurement, V=0", "theta": 61.2, "gain": -16.6},
      {"series": "Measurement, V=0", "theta": 62.4, "gain": -17.2},
      {"series": "Measurement, V=0", "theta": 64.8, "gain": -18.7},
      {"series": "Measurement, V=0", "theta": 67.8, "gain": -22.1},
      {"series": "Measurement, V=0", "theta": 70.3, "gain": -24.3},
      {"series": "Measurement, V=0", "theta": 72.7, "gain": -26.5},
      {"series": "Measurement, V=0", "theta": 75.8, "gain": -26.7},
      {"series": "Measurement, V=0", "theta": 78.2, "gain": -24},
      {"series": "Measurement, V=0", "theta": 79.4, "gain": -21.1},
      {"series": "Measurement, V=0", "theta": 80.6, "gain": -18.4},
      {"series": "Measurement, V=0", "theta": 82.5, "gain": -15.5},
      {"series": "Measurement, V=0", "theta": 84.9, "gain": -14.3},
      {"series": "Measurement, V=0", "theta": 87.3, "gain": -14.7},
      {"series": "Measurement, V=0", "theta": 89.8, "gain": -16.5},
      {"series": "Measurement, V=0", "theta": 92.8, "gain": -18.9},
      {"series": "Measurement, V=0", "theta": 96.5, "gain": -21.1},
      {"series": "Measurement, V=0", "theta": 100.1, "gain": -23.5},
      {"series": "Measurement, V=0", "theta": 103.2, "gain": -26},
      {"series": "Measurement, V=0", "theta": 106.2, "gain": -28.9},
      {"series": "Measurement, V=0", "theta": 108.7, "gain": -30.2},
      {"series": "Measurement, V=0", "theta": 111.7, "gain": -31.1},
      {"series": "Measurement, V=0", "theta": 114.1, "gain": -31.6},
      {"series": "Measurement, V=0", "theta": 117.2, "gain": -30.9},
      {"series": "Measurement, V=0", "theta": 119.6, "gain": -30.2},
      {"series": "Measurement, V=0", "theta": 122, "gain": -29.4},
      {"series": "Measurement, V=0", "theta": 125.1, "gain": -27.9},
      {"series": "Measurement, V=0", "theta": 126.9, "gain": -29},
      {"series": "Measurement, V=0", "theta": 128.7, "gain": -30.7},
      {"series": "Measurement, V=0", "theta": 130.6, "gain": -32.8},
      {"series": "Measurement, V=0", "theta": 132.4, "gain": -34.7},
      {"series": "Measurement, V=0", "theta": 135.4, "gain": -34.7},
      {"series": "Measurement, V=0", "theta": 138.5, "gain": -33.8},
      {"series": "Measurement, V=0", "theta": 141.5, "gain": -32.1},
      {"series": "Measurement, V=0", "theta": 144, "gain": -31.1},
      {"series": "Measurement, V=0", "theta": 145.8, "gain": -30.9},
      {"series": "Measurement, V=0", "theta": 147, "gain": -33.2},
      {"series": "Measurement, V=0", "theta": 148.8, "gain": -35.3},
      {"series": "Measurement, V=0", "theta": 150.7, "gain": -37.6},
      {"series": "Measurement, V=0", "theta": 153.1, "gain": -39.7},
      {"series": "Measurement, V=0", "theta": 155.5, "gain": -40.5},
      {"series": "Measurement, V=0", "theta": 158, "gain": -39.9},
      {"series": "Measurement, V=0", "theta": 160.4, "gain": -38.4},
      {"series": "Measurement, V=0", "theta": 162.2, "gain": -34.2},
      {"series": "Measurement, V=0", "theta": 164.7, "gain": -34},
      {"series": "Measurement, V=0", "theta": 166.5, "gain": -34.4},
      {"series": "Measurement, V=0", "theta": 167.7, "gain": -36.3},
      {"series": "Measurement, V=0", "theta": 168.3, "gain": -40.5},
      {"series": "Measurement, V=0", "theta": 168.9, "gain": -43.7},
      {"series": "Measurement, V=0", "theta": 170.8, "gain": -44.9},
      {"series": "Measurement, V=0", "theta": 173.2, "gain": -44.3},
      {"series": "Measurement, V=0", "theta": 175.6, "gain": -42},
      {"series": "Measurement, V=0", "theta": 177.5, "gain": -39.3},
      {"series": "Measurement, V=0", "theta": 180, "gain": -37},

      {"series": "Measurement, V=10", "theta": -180, "gain": -28.7},
      {"series": "Measurement, V=10", "theta": -179.4, "gain": -28.9},
      {"series": "Measurement, V=10", "theta": -176.5, "gain": -32.5},
      {"series": "Measurement, V=10", "theta": -173.9, "gain": -35.6},
      {"series": "Measurement, V=10", "theta": -171.5, "gain": -38.5},
      {"series": "Measurement, V=10", "theta": -169, "gain": -41.5},
      {"series": "Measurement, V=10", "theta": -166, "gain": -44},
      {"series": "Measurement, V=10", "theta": -162.9, "gain": -45.5},
      {"series": "Measurement, V=10", "theta": -161.7, "gain": -42},
      {"series": "Measurement, V=10", "theta": -160.5, "gain": -34.1},
      {"series": "Measurement, V=10", "theta": -157.4, "gain": -28.3},
      {"series": "Measurement, V=10", "theta": -155.6, "gain": -29.6},
      {"series": "Measurement, V=10", "theta": -153.2, "gain": -34.1},
      {"series": "Measurement, V=10", "theta": -149.5, "gain": -40.3},
      {"series": "Measurement, V=10", "theta": -146.5, "gain": -43.3},
      {"series": "Measurement, V=10", "theta": -142.8, "gain": -42},
      {"series": "Measurement, V=10", "theta": -141.6, "gain": -34.1},
      {"series": "Measurement, V=10", "theta": -139.2, "gain": -26.2},
      {"series": "Measurement, V=10", "theta": -136.2, "gain": -24.5},
      {"series": "Measurement, V=10", "theta": -132.5, "gain": -26.6},
      {"series": "Measurement, V=10", "theta": -129.4, "gain": -31.6},
      {"series": "Measurement, V=10", "theta": -128.2, "gain": -34.1},
      {"series": "Measurement, V=10", "theta": -125.8, "gain": -33.6},
      {"series": "Measurement, V=10", "theta": -123.3, "gain": -29.1},
      {"series": "Measurement, V=10", "theta": -120.9, "gain": -25.5},
      {"series": "Measurement, V=10", "theta": -118.5, "gain": -23.6},
      {"series": "Measurement, V=10", "theta": -115.4, "gain": -22.8},
      {"series": "Measurement, V=10", "theta": -113, "gain": -24.7},
      {"series": "Measurement, V=10", "theta": -110.5, "gain": -26.4},
      {"series": "Measurement, V=10", "theta": -108.1, "gain": -27.8},
      {"series": "Measurement, V=10", "theta": -105.7, "gain": -28.9},
      {"series": "Measurement, V=10", "theta": -102.6, "gain": -27.8},
      {"series": "Measurement, V=10", "theta": -99.6, "gain": -26.1},
      {"series": "Measurement, V=10", "theta": -96, "gain": -24.3},
      {"series": "Measurement, V=10", "theta": -92.3, "gain": -23},
      {"series": "Measurement, V=10", "theta": -88, "gain": -21.7},
      {"series": "Measurement, V=10", "theta": -83.1, "gain": -21.1},
      {"series": "Measurement, V=10", "theta": -81.3, "gain": -21.7},
      {"series": "Measurement, V=10", "theta": -78.9, "gain": -23.2},
      {"series": "Measurement, V=10", "theta": -77.1, "gain": -23.6},
      {"series": "Measurement, V=10", "theta": -74, "gain": -22.6},
      {"series": "Measurement, V=10", "theta": -70.4, "gain": -21.3},
      {"series": "Measurement, V=10", "theta": -67.3, "gain": -20.1},
      {"series": "Measurement, V=10", "theta": -65.5, "gain": -19.4},
      {"series": "Measurement, V=10", "theta": -63.1, "gain": -20.7},
      {"series": "Measurement, V=10", "theta": -60.6, "gain": -19.8},
      {"series": "Measurement, V=10", "theta": -58.2, "gain": -18.6},
      {"series": "Measurement, V=10", "theta": -55.8, "gain": -18.2},
      {"series": "Measurement, V=10", "theta": -53.3, "gain": -19.9},
      {"series": "Measurement, V=10", "theta": -50.9, "gain": -21.3},
      {"series": "Measurement, V=10", "theta": -48.5, "gain": -22.6},
      {"series": "Measurement, V=10", "theta": -45.4, "gain": -21.8},
      {"series": "Measurement, V=10", "theta": -42.4, "gain": -20.1},
      {"series": "Measurement, V=10", "theta": -39.9, "gain": -18},
      {"series": "Measurement, V=10", "theta": -38.1, "gain": -17.1},
      {"series": "Measurement, V=10", "theta": -36.3, "gain": -17.6},
      {"series": "Measurement, V=10", "theta": -34.5, "gain": -19},
      {"series": "Measurement, V=10", "theta": -32.6, "gain": -21.1},
      {"series": "Measurement, V=10", "theta": -30.2, "gain": -22.3},
      {"series": "Measurement, V=10", "theta": -27.8, "gain": -21.9},
      {"series": "Measurement, V=10", "theta": -25.3, "gain": -20.7},
      {"series": "Measurement, V=10", "theta": -22.9, "gain": -19},
      {"series": "Measurement, V=10", "theta": -19.8, "gain": -17.3},
      {"series": "Measurement, V=10", "theta": -16.8, "gain": -18.6},
      {"series": "Measurement, V=10", "theta": -13.1, "gain": -19.9},
      {"series": "Measurement, V=10", "theta": -11.3, "gain": -19},
      {"series": "Measurement, V=10", "theta": -8.9, "gain": -17.6},
      {"series": "Measurement, V=10", "theta": -7, "gain": -17},
      {"series": "Measurement, V=10", "theta": -4.6, "gain": -17.6},
      {"series": "Measurement, V=10", "theta": -2.2, "gain": -18.2},
      {"series": "Measurement, V=10", "theta": -1.3, "gain": -18},
      {"series": "Measurement, V=10", "theta": -0.3, "gain": -15.5},
      {"series": "Measurement, V=10", "theta": 0.9, "gain": -14.1},
      {"series": "Measurement, V=10", "theta": 2.7, "gain": -10.9},
      {"series": "Measurement, V=10", "theta": 4.5, "gain": -8.8},
      {"series": "Measurement, V=10", "theta": 6.3, "gain": -7.1},
      {"series": "Measurement, V=10", "theta": 8.2, "gain": -2.9},
      {"series": "Measurement, V=10", "theta": 10.6, "gain": -0.2},
      {"series": "Measurement, V=10", "theta": 12, "gain": 0},
      {"series": "Measurement, V=10", "theta": 13.1, "gain": -0.2},
      {"series": "Measurement, V=10", "theta": 15.5, "gain": -2.4},
      {"series": "Measurement, V=10", "theta": 17.9, "gain": -5.8},
      {"series": "Measurement, V=10", "theta": 19.7, "gain": -9},
      {"series": "Measurement, V=10", "theta": 21.6, "gain": -11.5},
      {"series": "Measurement, V=10", "theta": 24, "gain": -13.2},
      {"series": "Measurement, V=10", "theta": 26.5, "gain": -13.9},
      {"series": "Measurement, V=10", "theta": 28.9, "gain": -16.4},
      {"series": "Measurement, V=10", "theta": 31.9, "gain": -15.9},
      {"series": "Measurement, V=10", "theta": 35, "gain": -13.9},
      {"series": "Measurement, V=10", "theta": 38.6, "gain": -12.7},
      {"series": "Measurement, V=10", "theta": 41.1, "gain": -13.9},
      {"series": "Measurement, V=10", "theta": 44.7, "gain": -16.4},
      {"series": "Measurement, V=10", "theta": 47.2, "gain": -17.8},
      {"series": "Measurement, V=10", "theta": 49.6, "gain": -18.2},
      {"series": "Measurement, V=10", "theta": 52, "gain": -17.6},
      {"series": "Measurement, V=10", "theta": 53.9, "gain": -16.1},
      {"series": "Measurement, V=10", "theta": 55.7, "gain": -14.4},
      {"series": "Measurement, V=10", "theta": 57.5, "gain": -13.2},
      {"series": "Measurement, V=10", "theta": 60, "gain": -14.4},
      {"series": "Measurement, V=10", "theta": 62.4, "gain": -17.2},
      {"series": "Measurement, V=10", "theta": 64.2, "gain": -18.9},
      {"series": "Measurement, V=10", "theta": 66, "gain": -19.9},
      {"series": "Measurement, V=10", "theta": 67.8, "gain": -18.9},
      {"series": "Measurement, V=10", "theta": 70.3, "gain": -16.7},
      {"series": "Measurement, V=10", "theta": 72.7, "gain": -16.9},
      {"series": "Measurement, V=10", "theta": 77, "gain": -18.7},
      {"series": "Measurement, V=10", "theta": 80.6, "gain": -20.4},
      {"series": "Measurement, V=10", "theta": 85.5, "gain": -22.1},
      {"series": "Measurement, V=10", "theta": 90.4, "gain": -23.5},
      {"series": "Measurement, V=10", "theta": 94, "gain": -25},
      {"series": "Measurement, V=10", "theta": 97.7, "gain": -26.7},
      {"series": "Measurement, V=10", "theta": 101.4, "gain": -28.4},
      {"series": "Measurement, V=10", "theta": 105, "gain": -30.4},
      {"series": "Measurement, V=10", "theta": 108.1, "gain": -32.1},
      {"series": "Measurement, V=10", "theta": 110.5, "gain": -34.5},
      {"series": "Measurement, V=10", "theta": 112.9, "gain": -38},
      {"series": "Measurement, V=10", "theta": 115.4, "gain": -40.2},
      {"series": "Measurement, V=10", "theta": 118.4, "gain": -41.4},
      {"series": "Measurement, V=10", "theta": 120.2, "gain": -41.2},
      {"series": "Measurement, V=10", "theta": 122.7, "gain": -37.4},
      {"series": "Measurement, V=10", "theta": 125.7, "gain": -33.2},
      {"series": "Measurement, V=10", "theta": 128.1, "gain": -31.1},
      {"series": "Measurement, V=10", "theta": 130.6, "gain": -30.2},
      {"series": "Measurement, V=10", "theta": 132.4, "gain": -32.1},
      {"series": "Measurement, V=10", "theta": 134.8, "gain": -35.3},
      {"series": "Measurement, V=10", "theta": 137.3, "gain": -38.4},
      {"series": "Measurement, V=10", "theta": 139.7, "gain": -41.6},
      {"series": "Measurement, V=10", "theta": 140.9, "gain": -45.6},
      {"series": "Measurement, V=10", "theta": 143.4, "gain": -45.8},
      {"series": "Measurement, V=10", "theta": 146.4, "gain": -45.1},
      {"series": "Measurement, V=10", "theta": 147.6, "gain": -40.5},
      {"series": "Measurement, V=10", "theta": 148.8, "gain": -34.2},
      {"series": "Measurement, V=10", "theta": 150.1, "gain": -29.8},
      {"series": "Measurement, V=10", "theta": 151.9, "gain": -29.6},
      {"series": "Measurement, V=10", "theta": 154.3, "gain": -29.8},
      {"series": "Measurement, V=10", "theta": 156.2, "gain": -32.8},
      {"series": "Measurement, V=10", "theta": 158, "gain": -36.7},
      {"series": "Measurement, V=10", "theta": 160.4, "gain": -41.2},
      {"series": "Measurement, V=10", "theta": 161.6, "gain": -42.6},
      {"series": "Measurement, V=10", "theta": 164.1, "gain": -40.5},
      {"series": "Measurement, V=10", "theta": 165.3, "gain": -32.1},
      {"series": "Measurement, V=10", "theta": 167.1, "gain": -27.1},
      {"series": "Measurement, V=10", "theta": 168.9, "gain": -26.5},
      {"series": "Measurement, V=10", "theta": 171.4, "gain": -28.6},
      {"series": "Measurement, V=10", "theta": 173.8, "gain": -30.9},
      {"series": "Measurement, V=10", "theta": 176.3, "gain": -33},
      {"series": "Measurement, V=10", "theta": 178.7, "gain": -34.2},
      {"series": "Measurement, V=10", "theta": 180, "gain": -34.6}
    ]
  },
  "layer": [
    {
      "mark": {"type": "line", "strokeWidth": 9, "strokeCap": "butt", "interpolate": "monotone", "clip": true},
      "encoding": {
        "x": {
          "field": "theta",
          "type": "quantitative",
          "scale": {"domain": [-180, 180], "nice": false},
          "axis": {"orient": "bottom", "values": [-150, -100, -50, 0, 50, 100, 150], "labelPadding": 54, "title": "Theta \\ °", "titlePadding": 19}
        },
        "y": {
          "field": "gain",
          "type": "quantitative",
          "scale": {"domain": [-60, 0], "nice": false},
          "axis": {"orient": "left", "values": [-60, -50, -40, -30, -20, -10, 0], "labelPadding": 38, "title": "Normalized Realized Gain / dBi", "titlePadding": 12}
        },
        "color": {
          "field": "series",
          "type": "nominal",
          "title": null,
          "scale": {
            "domain": ["Simulation, V=0", "Simulation, V=10", "Measurement, V=0", "Measurement, V=10"],
            "range": ["#0000ff", "#000000", "#008000", "#ff0000"]
          }
        },
        "strokeDash": {
          "field": "series",
          "type": "nominal",
          "title": null,
          "scale": {
            "domain": ["Simulation, V=0", "Simulation, V=10", "Measurement, V=0", "Measurement, V=10"],
            "range": [[1, 0], [42, 40], [9, 9], [28, 12]]
          }
        }
      }
    },
    {
      "mark": {"type": "line", "opacity": 0},
      "encoding": {
        "x": {
          "field": "theta",
          "type": "quantitative",
          "scale": {"domain": [-180, 180], "nice": false},
          "axis": {"orient": "top", "values": [-150, -100, -50, 0, 50, 100, 150], "labels": false, "domain": false, "title": null}
        },
        "y": {
          "field": "gain",
          "type": "quantitative",
          "scale": {"domain": [-60, 0], "nice": false},
          "axis": {"orient": "right", "values": [-60, -50, -40, -30, -20, -10, 0], "labels": false, "domain": false, "title": null}
        },
        "detail": {"field": "series"}
      }
    }
  ],
  "resolve": {"axis": {"x": "independent", "y": "independent"}}
}
